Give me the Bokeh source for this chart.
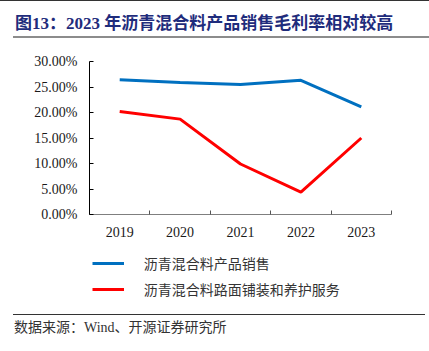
from bokeh.plotting import figure
from bokeh.layouts import column
from bokeh.models import (Range1d, LinearAxis, FixedTicker, NumeralTickFormatter,
                          Legend, LegendItem, Div)
from bokeh.embed import file_html
from bokeh.resources import INLINE

# ---- data ----
years = ["2019", "2020", "2021", "2022", "2023"]
product_sales = [26.4, 25.9, 25.5, 26.3, 21.1]      # 沥青混合料产品销售 毛利率 %
paving_service = [20.2, 18.7, 9.9, 4.4, 15.0]       # 沥青混合料路面铺装和养护服务 毛利率 %
y_ticks = [0, 5, 10, 15, 20, 25, 30]
series_names = ["沥青混合料产品销售", "沥青混合料路面铺装和养护服务"]
series_colors = ["#0070C0", "#FF0000"]
title_text = "图13：2023 年沥青混合料产品销售毛利率相对较高"
source_text = "数据来源：Wind、开源证券研究所"

W = 429
HEAD_H, CHART_H, LEG_H, FOOT_H = 45, 200, 55, 51
FL, FR = 89, 391
FRAME_TOP, FRAME_BOTTOM = 61, 214
SERIF = "Liberation Serif, Noto Sans CJK SC"
CJK = "Noto Sans CJK SC"
CSS_SERIF = "'Liberation Serif','Noto Sans CJK SC',serif"

# ---- header (title + rules) ----
head_html = (
    f'<div style="position:relative;width:{W}px;height:{HEAD_H}px;overflow:hidden;background:#fff;">'
    f'<div style="position:absolute;left:0;top:0;width:{W}px;height:1px;background:#333;"></div>'
    f'<div style="position:absolute;left:15px;top:15px;height:18px;line-height:18px;'
    f'font-family:{CSS_SERIF};font-weight:bold;font-size:17px;color:#1F2C7C;white-space:nowrap;">'
    f'{title_text}</div>'
    f'<div style="position:absolute;left:13px;top:36px;width:{W - 13}px;height:2px;background:#8c8c8c;"></div>'
    f'</div>'
)
head = Div(text=head_html, width=W, height=HEAD_H, margin=0)

# ---- chart ----
xs = list(range(len(years)))
p = figure(width=W, height=CHART_H, output_backend="svg", toolbar_location=None,
           x_axis_type=None, y_axis_type=None,
           min_border_left=FL, min_border_right=W - FR,
           min_border_top=FRAME_TOP - HEAD_H, min_border_bottom=HEAD_H + CHART_H - FRAME_BOTTOM,
           x_range=Range1d(-0.5, len(years) - 0.5), y_range=Range1d(0, y_ticks[-1] / 100),
           margin=0)
p.outline_line_color = None
p.xgrid.visible = False
p.ygrid.visible = False
p.background_fill_color = "white"
p.border_fill_color = "white"

yaxis = LinearAxis(ticker=FixedTicker(ticks=[t / 100 for t in y_ticks]),
                   formatter=NumeralTickFormatter(format="0.00%"),
                   major_tick_in=4, major_tick_out=0, minor_tick_in=0, minor_tick_out=0,
                   axis_line_color="#000000", major_tick_line_color="#000000",
                   major_label_standoff=12,
                   major_label_text_font=SERIF, major_label_text_font_size="14px",
                   major_label_text_color="#1a1a1a")
p.add_layout(yaxis, "left")

xaxis = LinearAxis(ticker=FixedTicker(ticks=xs, minor_ticks=[i - 0.5 for i in range(len(years) + 1)]),
                   major_label_overrides={i: y for i, y in zip(xs, years)},
                   major_tick_in=0, major_tick_out=0, minor_tick_in=4, minor_tick_out=0,
                   axis_line_color="#7f7f7f", minor_tick_line_color="#555555",
                   major_label_standoff=12,
                   major_label_text_font=SERIF, major_label_text_font_size="14px",
                   major_label_text_color="#1a1a1a")
p.add_layout(xaxis, "below")

p.line(xs, [v / 100 for v in product_sales], line_color=series_colors[0], line_width=3)
p.line(xs, [v / 100 for v in paving_service], line_color=series_colors[1], line_width=3)

# ---- legend strip (frame aligned with chart frame) ----
lf = figure(width=W, height=LEG_H, output_backend="svg", toolbar_location=None,
            x_axis_type=None, y_axis_type=None,
            min_border_left=FL, min_border_right=W - FR, min_border_top=0, min_border_bottom=0,
            x_range=Range1d(0, 1), y_range=Range1d(0, 1), margin=0)
lf.outline_line_color = None
lf.xgrid.visible = False
lf.ygrid.visible = False
lf.background_fill_color = "white"
lf.border_fill_color = "white"
# legend proxies: drawn outside the visible range, only their style feeds the legend
d1 = lf.line([5, 6], [5, 5], line_color=series_colors[0], line_width=3)
d2 = lf.line([5, 6], [5, 5], line_color=series_colors[1], line_width=3)
leg_top = HEAD_H + CHART_H
legend = Legend(items=[LegendItem(label=series_names[0], renderers=[d1]),
                       LegendItem(label=series_names[1], renderers=[d2])],
                location=(2.7, LEG_H - (298.7 - leg_top)),
                border_line_color=None, background_fill_alpha=0,
                padding=0, margin=0, spacing=6,
                glyph_width=32, glyph_height=20, label_height=20, label_standoff=20,
                label_text_font=CJK, label_text_font_size="14px", label_text_color="#333333")
lf.add_layout(legend, "center")

# ---- footer (rule + source) ----
foot_html = (
    f'<div style="position:relative;width:{W}px;height:{FOOT_H}px;overflow:hidden;background:#fff;">'
    f'<div style="position:absolute;left:13px;top:14px;width:{425 - 13}px;height:1px;background:#333;"></div>'
    f'<div style="position:absolute;left:14px;top:19px;height:18px;line-height:18px;'
    f'font-family:{CSS_SERIF};font-size:14px;color:#333;white-space:nowrap;">'
    f'{source_text}</div>'
    f'</div>'
)
foot = Div(text=foot_html, width=W, height=FOOT_H, margin=0)

layout = column(head, p, lf, foot, spacing=0)
open("out.html", "w").write(file_html(layout, INLINE))
